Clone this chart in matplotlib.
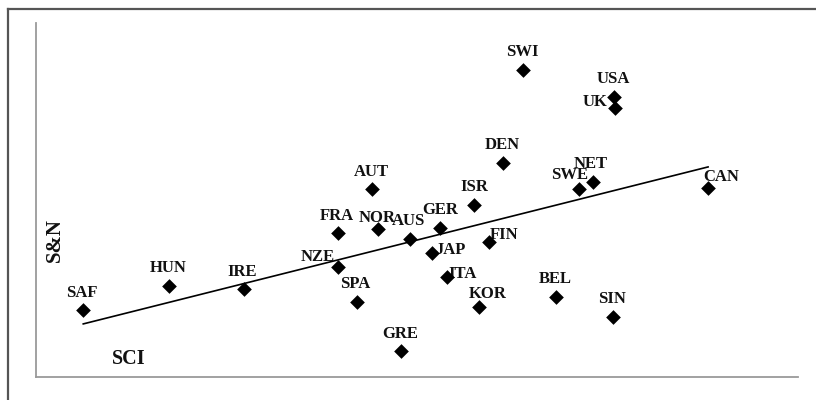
import numpy as np
import matplotlib
matplotlib.use("Agg")
import matplotlib.pyplot as plt
from matplotlib.lines import Line2D

# Data (arbitrary units, 0-100 scale)
countries = ["SAF", "HUN", "IRE", "NZE", "FRA", "NOR", "AUT", "AUS", "GER", "JAP",
             "ITA", "SPA", "GRE", "ISR", "FIN", "KOR", "DEN", "SWI", "BEL", "SIN",
             "SWE", "NET", "USA", "UK", "CAN"]
sci = [6.2, 17.4, 27.3, 39.6, 39.6, 44.9, 44.1, 49.1, 53.0, 52.0,
       53.9, 42.1, 47.9, 57.5, 59.4, 58.1, 61.3, 63.9, 68.2, 75.7,
       71.2, 73.1, 75.9, 76.0, 88.2]
sn = [18.9, 25.7, 24.9, 31.1, 40.7, 41.8, 53.1, 39.0, 42.1, 35.0,
      28.2, 21.2, 7.3, 48.6, 38.1, 19.8, 60.4, 86.7, 22.6, 16.9,
      53.1, 55.1, 79.1, 76.0, 53.4]

# label offsets (pixels, text centre relative to marker) - styling only
label_off = {
    "SAF": (-1, 17), "HUN": (0, 18), "IRE": (-2, 17), "NZE": (-20, 10),
    "FRA": (-1, 17), "NOR": (-1, 11), "AUT": (-1, 17), "AUS": (-2, 18),
    "GER": (0, 18), "JAP": (18, 3), "ITA": (16, 3), "SPA": (-2, 18),
    "GRE": (-1, 17), "ISR": (0, 18), "FIN": (15, 7), "KOR": (9, 13),
    "DEN": (-1, 18), "SWI": (-1, 18), "BEL": (0, 18), "SIN": (-1, 18),
    "SWE": (-9, 14), "NET": (-2, 18), "USA": (-1, 18), "UK": (-20, 6),
    "CAN": (13, 11),
}

W, H = 816, 400
fig = plt.figure(figsize=(W / 100, H / 100), dpi=100)
fig.patch.set_facecolor("white")

ax = fig.add_axes([36 / W, (H - 377) / H, (798 - 36) / W, (377 - 23) / H])
ax.set_xlim(0, 100)
ax.set_ylim(0, 100)
for s in ["top", "right"]:
    ax.spines[s].set_visible(False)
for s in ["left", "bottom"]:
    ax.spines[s].set_color("#9a9a9a")
    ax.spines[s].set_linewidth(1.3)
ax.set_xticks([])
ax.set_yticks([])

serif = ["Liberation Serif", "DejaVu Serif"]

# trend line (OLS fit)
x = np.array(sci)
y = np.array(sn)
b, a = np.polyfit(x, y, 1)
xs = np.array([x.min(), x.max()])
ax.plot(xs, a + b * xs, color="black", lw=1.2, zorder=2)

for c, xi, yi in zip(countries, sci, sn):
    dx, dy = label_off[c]
    ax.annotate(c, (xi, yi), xytext=(dx * 0.72, dy * 0.72), textcoords="offset points",
                ha="center", va="center", fontsize=12, fontweight="bold",
                family=serif, color="#111111", zorder=3)

ax.scatter(sci, sn, marker="D", s=56, color="black", zorder=4, linewidths=0)

fig.text(55 / W, 1 - 240 / H, "S&N", rotation=90, ha="center", va="center",
         fontsize=15, fontweight="bold", family=serif, color="#111111")
fig.text(129 / W, 1 - 359 / H, "SCI", ha="center", va="center",
         fontsize=14.5, fontweight="bold", family=serif, color="#111111")

# outer frame (top and left visible)
fig.add_artist(Line2D([7.5 / W, 7.5 / W], [0, 1 - 9 / H], transform=fig.transFigure,
                      color="#555555", lw=1.6))
fig.add_artist(Line2D([7.5 / W, 1], [1 - 9 / H, 1 - 9 / H], transform=fig.transFigure,
                      color="#555555", lw=1.6))

fig.savefig("out.png", dpi=100)
